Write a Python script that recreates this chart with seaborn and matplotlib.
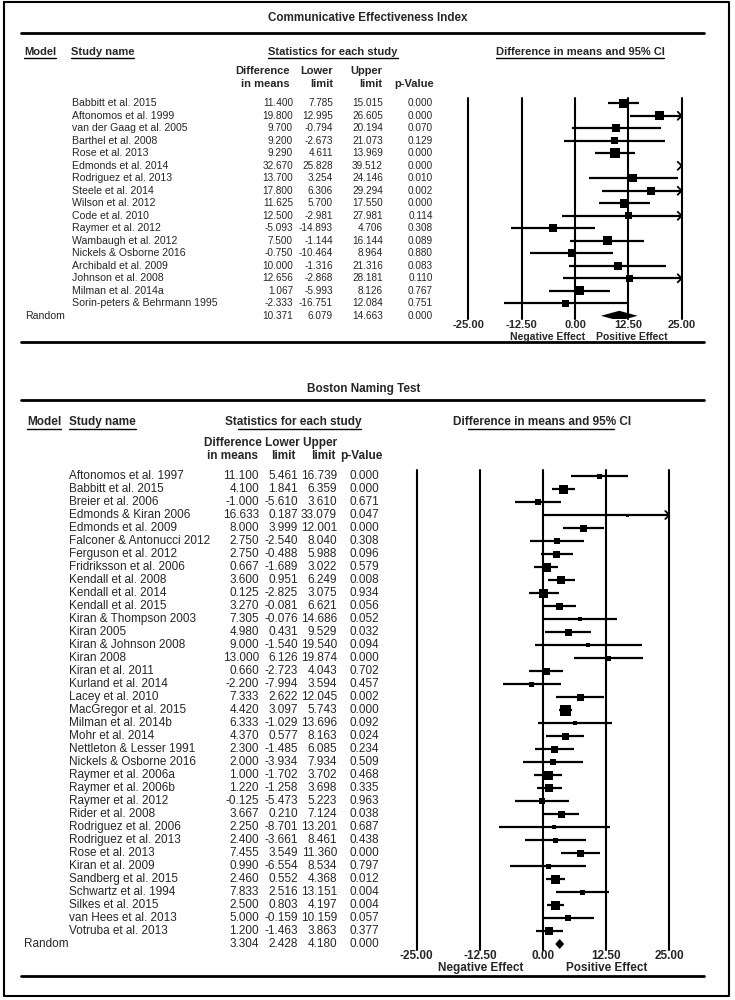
import numpy as np
import pandas as pd
import matplotlib
matplotlib.use("Agg")
import matplotlib.pyplot as plt
import seaborn as sns


# Communicative Effectiveness Index
cei_studies = [
    "Babbitt et al. 2015", "Aftonomos et al. 1999", "van der Gaag et al. 2005",
    "Barthel et al. 2008", "Rose et al. 2013", "Edmonds et al. 2014",
    "Rodriguez et al. 2013", "Steele et al. 2014", "Wilson et al. 2012",
    "Code et al. 2010", "Raymer et al. 2012", "Wambaugh et al. 2012",
    "Nickels & Osborne 2016", "Archibald et al. 2009", "Johnson et al. 2008",
    "Milman et al. 2014a", "Sorin-peters & Behrmann 1995",
]
cei_diff = [11.400, 19.800, 9.700, 9.200, 9.290, 32.670, 13.700, 17.800, 11.625,
            12.500, -5.093, 7.500, -0.750, 10.000, 12.656, 1.067, -2.333]
cei_lower = [7.785, 12.995, -0.794, -2.673, 4.611, 25.828, 3.254, 6.306, 5.700,
             -2.981, -14.893, -1.144, -10.464, -1.316, -2.868, -5.993, -16.751]
cei_upper = [15.015, 26.605, 20.194, 21.073, 13.969, 39.512, 24.146, 29.294, 17.550,
             27.981, 4.706, 16.144, 8.964, 21.316, 28.181, 8.126, 12.084]
cei_p = [0.000, 0.000, 0.070, 0.129, 0.000, 0.000, 0.010, 0.002, 0.000,
         0.114, 0.308, 0.089, 0.880, 0.083, 0.110, 0.767, 0.751]
# relative study weight, read as box side (px) off the picture
cei_box = [9, 9, 8, 7, 10, 8, 8, 8, 9, 7, 8, 9, 8, 8, 7, 9, 7]
cei_random = [10.371, 6.079, 14.663, 0.000]

# Boston Naming Test
bnt_studies = [
    "Aftonomos et al. 1997", "Babbitt et al. 2015", "Breier et al. 2006",
    "Edmonds & Kiran 2006", "Edmonds et al. 2009", "Falconer & Antonucci 2012",
    "Ferguson et al. 2012", "Fridriksson et al. 2006", "Kendall et al. 2008",
    "Kendall et al. 2014", "Kendall et al. 2015", "Kiran & Thompson 2003",
    "Kiran 2005", "Kiran & Johnson 2008", "Kiran 2008", "Kiran et al. 2011",
    "Kurland et al. 2014", "Lacey et al. 2010", "MacGregor et al. 2015",
    "Milman et al. 2014b", "Mohr et al. 2014", "Nettleton & Lesser 1991",
    "Nickels & Osborne 2016", "Raymer et al. 2006a", "Raymer et al. 2006b",
    "Raymer et al. 2012", "Rider et al. 2008", "Rodriguez et al. 2006",
    "Rodriguez et al. 2013", "Rose et al. 2013", "Kiran et al. 2009",
    "Sandberg et al. 2015", "Schwartz et al. 1994", "Silkes et al. 2015",
    "van Hees et al. 2013", "Votruba et al. 2013",
]
bnt_diff = [11.100, 4.100, -1.000, 16.633, 8.000, 2.750, 2.750, 0.667, 3.600, 0.125,
            3.270, 7.305, 4.980, 9.000, 13.000, 0.660, -2.200, 7.333, 4.420, 6.333,
            4.370, 2.300, 2.000, 1.000, 1.220, -0.125, 3.667, 2.250, 2.400, 7.455,
            0.990, 2.460, 7.833, 2.500, 5.000, 1.200]
bnt_lower = [5.461, 1.841, -5.610, 0.187, 3.999, -2.540, -0.488, -1.689, 0.951, -2.825,
             -0.081, -0.076, 0.431, -1.540, 6.126, -2.723, -7.994, 2.622, 3.097, -1.029,
             0.577, -1.485, -3.934, -1.702, -1.258, -5.473, 0.210, -8.701, -3.661, 3.549,
             -6.554, 0.552, 2.516, 0.803, -0.159, -1.463]
bnt_upper = [16.739, 6.359, 3.610, 33.079, 12.001, 8.040, 5.988, 3.022, 6.249, 3.075,
             6.621, 14.686, 9.529, 19.540, 19.874, 4.043, 3.594, 12.045, 5.743, 13.696,
             8.163, 6.085, 7.934, 3.702, 3.698, 5.223, 7.124, 13.201, 8.461, 11.360,
             8.534, 4.368, 13.151, 4.197, 10.159, 3.863]
bnt_p = [0.000, 0.000, 0.671, 0.047, 0.000, 0.308, 0.096, 0.579, 0.008, 0.934,
         0.056, 0.052, 0.032, 0.094, 0.000, 0.702, 0.457, 0.002, 0.000, 0.092,
         0.024, 0.234, 0.509, 0.468, 0.335, 0.963, 0.038, 0.687, 0.438, 0.000,
         0.797, 0.012, 0.004, 0.004, 0.057, 0.377]
bnt_box = [5, 9, 6, 3, 7, 6, 7, 9, 8, 9, 7, 4, 7, 4, 5, 7, 5, 7, 11, 4,
           7, 7, 6, 9, 8, 6, 7, 4, 5, 7, 5, 9, 5, 9, 6, 8]
bnt_random = [3.304, 2.428, 4.180, 0.000]

ticks = [-25, -12.5, 0, 12.5, 25]

W, H = 735, 1000

sns.set_theme(style="white")
plt.rcParams["font.family"] = ["Liberation Sans", "DejaVu Sans"]

FONT = ["Liberation Sans", "DejaVu Sans"]

fig = plt.figure(figsize=(W / 100, H / 100), dpi=100)
bg = fig.add_axes([0, 0, 1, 1])
bg.set_xlim(0, W)
bg.set_ylim(H, 0)
bg.axis("off")

underlined = []


def px_axes(left, top, right, bottom):
    return fig.add_axes([left / W, 1 - bottom / H, (right - left) / W, (bottom - top) / H])


def forest_panel(title, studies, diff, lower, upper, p, box, random, lay):
    fs = lay["fs"]
    hfs = lay["hfs"]

    # title and rules
    bg.text(lay["title_x"], lay["title_y"], title, ha="center", va="center",
            fontsize=lay["tfs"], fontweight="bold", family=FONT)
    bg.plot([21, 704], [lay["rule_y"], lay["rule_y"]], color="black", lw=2)
    bg.plot([21, 704], [lay["end_rule"], lay["end_rule"]], color="black", lw=2)

    # column headers (underlined, with the odd trims of the original)
    for txt, x, ha, trim in lay["heads"]:
        t = bg.text(x, lay["head_y"], txt, ha=ha, va="center", fontsize=hfs,
                    fontweight="bold", family=FONT)
        underlined.append((t, trim))
    for txt, x, y, ha in lay["subs"]:
        bg.text(x, y, txt, ha=ha, va="center", fontsize=hfs,
                fontweight="bold", family=FONT)

    n = len(studies)
    rows = lay["row0"] + lay["step"] * np.arange(n + 1)
    nx = lay["num_x"]
    for i in range(n):
        y = rows[i]
        bg.text(lay["name_x"], y, studies[i], ha="left", va="center",
                fontsize=lay["sfs"], family=FONT)
        for v, x in zip([diff[i], lower[i], upper[i], p[i]], nx):
            bg.text(x, y, f"{v:.3f}", ha="right", va="center", fontsize=fs, family=FONT)
    y = rows[n]
    bg.text(lay["random_x"], y, "Random", ha="left", va="center",
            fontsize=lay["sfs"], family=FONT)
    for v, x in zip(random, nx):
        bg.text(x, y, f"{v:.3f}", ha="right", va="center", fontsize=fs, family=FONT)

    # forest plot area
    ax = px_axes(lay["x_lo"], lay["ax_top"], lay["x_hi"], lay["ax_bottom"])
    df = pd.DataFrame({"diff": diff, "lower": lower, "upper": upper,
                       "row": np.arange(n), "area": (np.array(box) * 0.72) ** 2})
    shown = df[(df["diff"] >= -25) & (df["diff"] <= 25)]
    amin, amax = shown["area"].min(), shown["area"].max()
    sns.scatterplot(data=shown, x="diff", y="row", size="area", sizes=(amin, amax),
                    size_norm=(amin, amax), marker="s", color="black", linewidth=0,
                    legend=False, ax=ax, zorder=3)

    inside = df[df["lower"] < 25]
    ax.hlines(inside["row"], inside["lower"].clip(-25, 25), inside["upper"].clip(-25, 25),
              color="black", lw=1.6, zorder=2, clip_on=False)
    dx = 4 / lay["ppu"]
    dy = 4 / lay["step"]
    for r in df.loc[df["upper"] > 25, "row"]:
        ax.plot([25 - dx, 25, 25 - dx], [r - dy, r, r + dy], color="black", lw=1.3,
                clip_on=False, zorder=2)

    est, lo, hi = random[0], random[1], random[2]
    h = 5 / lay["step"]
    ax.fill([lo, est, hi, est], [n, n - h, n, n + h], color="black", lw=0, zorder=3)

    for t in ticks:
        ax.axvline(t, color="black", lw=1.5, clip_on=False, zorder=1)

    ax.set_xlim(-25, 25)
    ax.set_ylim((lay["ax_bottom"] - lay["row0"]) / lay["step"],
                (lay["ax_top"] - lay["row0"]) / lay["step"])
    ax.set_xticks(ticks)
    ax.set_xticklabels([f"{t:.2f}" for t in ticks], fontsize=lay["kfs"],
                       fontweight="bold", family=FONT)
    ax.tick_params(axis="x", length=0, pad=lay["pad"])
    ax.set_yticks([])
    ax.set_xlabel("")
    ax.set_ylabel("")
    for s in ax.spines.values():
        s.set_visible(False)
    ax.patch.set_alpha(0)

    bg.text(lay["neg"][0], lay["neg"][1], "Negative Effect", ha="center", va="center",
            fontsize=lay["nfs"], fontweight="bold", family=FONT)
    bg.text(lay["pos"][0], lay["pos"][1], "Positive Effect", ha="center", va="center",
            fontsize=lay["nfs"], fontweight="bold", family=FONT)


top_layout = dict(
    fs=7.2, sfs=7.6, hfs=8, tfs=8.4, kfs=8, nfs=7.5,
    title_x=368, title_y=18, rule_y=33, end_rule=342,
    head_y=52,
    heads=[("Model", 24, "left", (0, 0)), ("Study name", 71, "left", (0, 0)),
           ("Statistics for each study", 333, "center", (0, 0)),
           ("Difference in means and 95% CI", 580, "center", (0, 0))],
    subs=[("Difference", 290, 71, "right"), ("in means", 290, 84, "right"),
          ("Lower", 333, 71, "right"), ("limit", 333, 84, "right"),
          ("Upper", 382, 71, "right"), ("limit", 382, 84, "right"),
          ("p-Value", 434, 84, "right")],
    name_x=72, random_x=25, num_x=(293, 333, 383, 433),
    row0=103.3, step=12.5, ax_top=98, ax_bottom=319,
    x_lo=468.3, x_hi=681.7, ppu=(681.7 - 468.3) / 50, pad=1,
    neg=(548, 337), pos=(632, 337),
)

bnt_layout = dict(
    fs=8.5, sfs=8.5, hfs=8.5, tfs=8.5, kfs=8.5, nfs=8.5,
    title_x=364, title_y=389, rule_y=400, end_rule=976,
    head_y=422,
    heads=[("Model", 27, "left", (0, 0)), ("Study name", 69, "left", (0, 0)),
           ("Statistics for each study", 293, "center", (13, 0)),
           ("Difference in means and 95% CI", 542, "center", (15, 17))],
    subs=[("Difference Lower Upper", 204, 443, "left"),
          ("in means", 258, 456, "right"), ("limit", 296, 456, "right"),
          ("limit", 336, 456, "right"), ("p-Value", 383, 456, "right")],
    name_x=69, random_x=24, num_x=(259, 298, 337, 379),
    row0=476, step=13.0, ax_top=470, ax_bottom=950,
    x_lo=416.7, x_hi=669.3, ppu=(669.3 - 416.7) / 50, pad=0,
    neg=(481, 968), pos=(607, 968),
)

forest_panel("Communicative Effectiveness Index", cei_studies, cei_diff, cei_lower,
             cei_upper, cei_p, cei_box, cei_random, top_layout)
forest_panel("Boston Naming Test", bnt_studies, bnt_diff, bnt_lower,
             bnt_upper, bnt_p, bnt_box, bnt_random, bnt_layout)

# outer frame
bg.plot([4, 729, 729, 4, 4], [2, 2, 996, 996, 2], color="black", lw=1.5)

# underline header labels
fig.canvas.draw()
renderer = fig.canvas.get_renderer()
for t, (tl, tr) in underlined:
    bb = t.get_window_extent(renderer)
    y = H - bb.y0 + 0.5
    bg.plot([bb.x0 + tl, bb.x1 - tr], [y, y], color="black", lw=1)

fig.savefig("out.png", dpi=100)
